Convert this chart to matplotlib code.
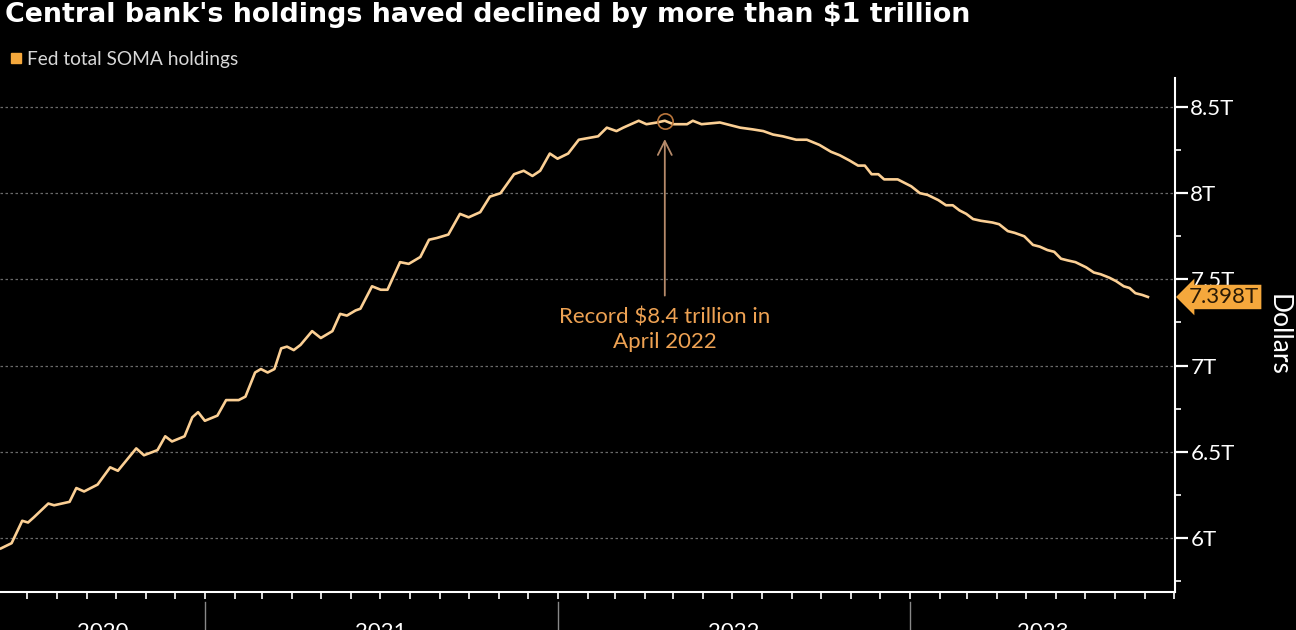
import matplotlib
matplotlib.use("Agg")
import matplotlib.pyplot as plt
import matplotlib.dates as mdates
import matplotlib.transforms as mtransforms
import numpy as np
import pandas as pd

# ---------------- data ----------------
dates = [
    "2020-06-04", "2020-06-15", "2020-06-26", "2020-07-02", "2020-07-08", "2020-07-23", "2020-07-29",
    "2020-08-14", "2020-08-21", "2020-08-29", "2020-09-05", "2020-09-12", "2020-09-25", "2020-10-03",
    "2020-10-22", "2020-10-30", "2020-11-13", "2020-11-21", "2020-11-28", "2020-12-11", "2020-12-19",
    "2020-12-25", "2021-01-01", "2021-01-14", "2021-01-23", "2021-02-05", "2021-02-12", "2021-02-22",
    "2021-02-28", "2021-03-07", "2021-03-14", "2021-03-21", "2021-03-27", "2021-04-03", "2021-04-10",
    "2021-04-22", "2021-05-01", "2021-05-13", "2021-05-21", "2021-05-28", "2021-06-06", "2021-06-11",
    "2021-06-23", "2021-07-02", "2021-07-09", "2021-07-22", "2021-07-31", "2021-08-12", "2021-08-21",
    "2021-08-29", "2021-09-10", "2021-09-22", "2021-10-01", "2021-10-13", "2021-10-23", "2021-11-03",
    "2021-11-17", "2021-11-27", "2021-12-06", "2021-12-14", "2021-12-24", "2022-01-01", "2022-01-12",
    "2022-01-23", "2022-02-12", "2022-02-21", "2022-03-03", "2022-03-10", "2022-03-26", "2022-04-03",
    "2022-04-14", "2022-04-22", "2022-05-01", "2022-05-15", "2022-05-21", "2022-05-30", "2022-06-18",
    "2022-07-09", "2022-07-22", "2022-08-02", "2022-08-12", "2022-08-22", "2022-09-05", "2022-09-16",
    "2022-09-29", "2022-10-11", "2022-10-20", "2022-10-30", "2022-11-08", "2022-11-15", "2022-11-22",
    "2022-11-29", "2022-12-05", "2022-12-19", "2023-01-02", "2023-01-11", "2023-01-19", "2023-01-30",
    "2023-02-07", "2023-02-14", "2023-02-21", "2023-02-28", "2023-03-07", "2023-03-15", "2023-03-27",
    "2023-04-03", "2023-04-12", "2023-04-19", "2023-04-29", "2023-05-08", "2023-05-15", "2023-05-23",
    "2023-05-30", "2023-06-06", "2023-06-13", "2023-06-21", "2023-07-02", "2023-07-10", "2023-07-17",
    "2023-07-26", "2023-08-02", "2023-08-10", "2023-08-16", "2023-08-22", "2023-08-29", "2023-09-04",
]
soma_trillions = [
    5.94, 5.97, 6.10, 6.09, 6.12, 6.20, 6.19,
    6.21, 6.29, 6.27, 6.29, 6.31, 6.41, 6.39,
    6.52, 6.48, 6.51, 6.59, 6.56, 6.59, 6.70,
    6.73, 6.68, 6.71, 6.80, 6.80, 6.82, 6.96,
    6.98, 6.96, 6.98, 7.10, 7.11, 7.09, 7.12,
    7.20, 7.16, 7.20, 7.30, 7.29, 7.32, 7.33,
    7.46, 7.44, 7.44, 7.60, 7.59, 7.63, 7.73,
    7.74, 7.76, 7.88, 7.86, 7.89, 7.98, 8.00,
    8.11, 8.13, 8.10, 8.13, 8.23, 8.20, 8.23,
    8.31, 8.33, 8.38, 8.36, 8.38, 8.42, 8.40,
    8.41, 8.42, 8.40, 8.40, 8.42, 8.40, 8.41,
    8.38, 8.37, 8.36, 8.34, 8.33, 8.31, 8.31,
    8.28, 8.24, 8.22, 8.19, 8.16, 8.16, 8.11,
    8.11, 8.08, 8.08, 8.04, 8.00, 7.99, 7.96,
    7.93, 7.93, 7.90, 7.88, 7.85, 7.84, 7.83,
    7.82, 7.78, 7.77, 7.75, 7.70, 7.69, 7.67,
    7.66, 7.62, 7.61, 7.60, 7.57, 7.54, 7.53,
    7.51, 7.49, 7.46, 7.45, 7.42, 7.41, 7.398,
]
y_ticks = [6.0, 6.5, 7.0, 7.5, 8.0, 8.5]
y_tick_labels = ["6T", "6.5T", "7T", "7.5T", "8T", "8.5T"]
y_minor_ticks = [5.75, 6.25, 6.75, 7.25, 7.75, 8.25]
years = ["2020", "2021", "2022", "2023"]
peak_date = "2022-04-22"
peak_value = 8.42

title = "Central bank's holdings haved declined by more than $1 trillion"
legend_label = "Fed total SOMA holdings"
annotation_text = "Record $8.4 trillion in\nApril 2022"
y_axis_title = "Dollars"

# ---------------- style ----------------
FONT = ["Lato", "DejaVu Sans"]
plt.rcParams["font.family"] = FONT
BG = "#000000"
LINE_C = "#fbcf94"
ORANGE = "#f5a83c"
ANNOT_C = "#eea253"

x = pd.to_datetime(dates)
xmin = pd.Timestamp("2020-06-03")
xmax = pd.Timestamp("2023-10-02")

fig = plt.figure(figsize=(12.96, 6.30), dpi=100, facecolor=BG)
ax = fig.add_axes([0.0, 1 - 592 / 630, 1175 / 1296, (592 - 78) / 630])
ax.set_facecolor(BG)

ax.plot(x, soma_trillions, color=LINE_C, lw=1.9, solid_joinstyle="round", zorder=3)

# spines
for s in ["left", "top"]:
    ax.spines[s].set_visible(False)
for s in ["right", "bottom"]:
    ax.spines[s].set_color("white")
    ax.spines[s].set_linewidth(1.5)

# y axis on right
ax.yaxis.tick_right()
ax.set_yticks(y_ticks)
ax.set_yticklabels(y_tick_labels)
ax.set_yticks(y_minor_ticks, minor=True)
ax.tick_params(axis="y", which="major", direction="out", length=9, width=1.6,
               colors="white", labelsize=16, pad=2)
ax.tick_params(axis="y", which="minor", direction="out", length=4, width=1.2, colors="white")
ax.yaxis.grid(True, which="major", linestyle=(0, (2, 2)), color="#6a6a6a", lw=0.9, zorder=1)
ax.set_axisbelow(True)

# x axis monthly ticks without labels
ax.xaxis.set_major_locator(mdates.MonthLocator())
ax.xaxis.set_major_formatter(plt.NullFormatter())
ax.tick_params(axis="x", which="major", direction="out", length=5, width=1.2, colors="white")

ax.set_xlim(xmin, xmax)
ax.set_ylim(5.687, 8.668)

# year labels and separators below axis
trans = mtransforms.blended_transform_factory(ax.transData, ax.transAxes)
for yr in years:
    start = max(pd.Timestamp(f"{yr}-01-01"), xmin)
    end = min(pd.Timestamp(f"{int(yr) + 1}-01-01"), xmax)
    mid = start + (end - start) / 2
    ax.text(mid, -0.078, yr, transform=trans, ha="center", va="center",
            color="white", fontsize=16, clip_on=False)
    if pd.Timestamp(f"{yr}-01-01") > xmin:
        ax.plot([pd.Timestamp(f"{yr}-01-01")] * 2, [-0.02, -0.09], transform=trans,
                color="#888888", lw=1.0, clip_on=False)

# y axis title
fig.text(1278 / 1296, 1 - 335 / 630, y_axis_title, rotation=270, ha="center", va="center",
         color="white", fontsize=19)

# title and legend
fig.text(5 / 1296, 1 - 15 / 630, title, ha="left", va="center", color="white",
         fontsize=19.4, fontweight="bold", family=["DejaVu Sans"])
fig.patches.append(plt.Rectangle((11 / 1296, 1 - 63 / 630), 10 / 1296, 10 / 630,
                                 transform=fig.transFigure, color=ORANGE))
fig.text(27 / 1296, 1 - 59 / 630, legend_label, ha="left", va="center", color="#d8d8d8",
         fontsize=13.8)

# peak annotation
pk = pd.Timestamp(peak_date)
ax.plot([pk], [peak_value], "o", mfc="none", mec="#b9763c", ms=11, mew=1.2, zorder=4)
ax.annotate("", xy=(pk, 8.33), xytext=(pk, 7.39),
            arrowprops=dict(arrowstyle="->", color="#b58a6a", lw=1.3, mutation_scale=25))
ax.text(pk, 7.335, annotation_text, ha="center", va="top", color=ANNOT_C, fontsize=16,
        linespacing=1.25)

# last value label
last = soma_trillions[-1]
ax.annotate(f"{last:.3f}T", xy=(1.0, last), xycoords=("axes fraction", "data"),
            xytext=(10, 0), textcoords="offset points", ha="left", va="center",
            color="#2a1a05", fontsize=16,
            bbox=dict(boxstyle="larrow,pad=0.1", fc=ORANGE, ec="none"),
            annotation_clip=False)

fig.savefig("out.png", dpi=100, facecolor=BG)
